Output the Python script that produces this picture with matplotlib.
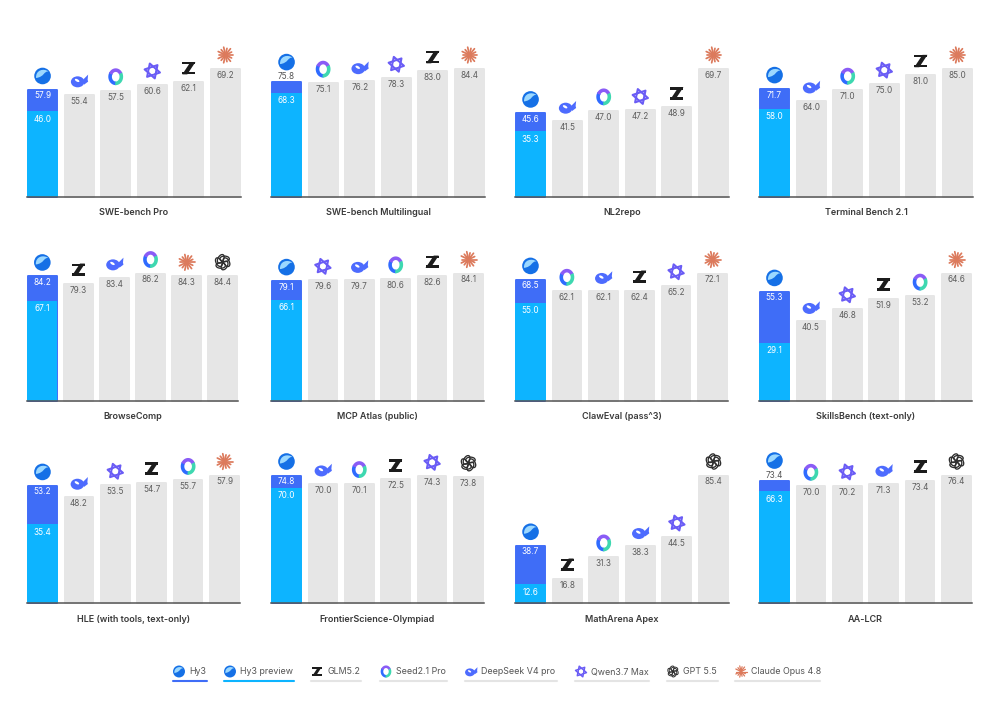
# -*- coding: utf-8 -*-
"""
Hy3 vs. rival models, 12 benchmarks. One small bar panel per benchmark,
logos drawn by hand above each bar.
"""

import numpy as np
import matplotlib
matplotlib.use('Agg')
import matplotlib.pyplot as plt
from matplotlib.patches import Circle, Ellipse, Polygon, PathPatch
from matplotlib.path import Path

# --- Data ---
TITLES = ['SWE-bench Pro', 'SWE-bench Multilingual', 'NL2repo', 'Terminal Bench 2.1',
          'BrowseComp', 'MCP Atlas (public)', 'ClawEval (pass^3)', 'SkillsBench (text-only)',
          'HLE (with tools, text-only)', 'FrontierScience-Olympiad', 'MathArena Apex', 'AA-LCR']

HY3 = [57.9, 75.8, 45.6, 71.7,
       84.2, 79.1, 68.5, 55.3,
       53.2, 74.8, 38.7, 73.4]
HY3_PREVIEW = [46.0, 68.3, 35.3, 58.0,
               67.1, 66.1, 55.0, 29.1,
               35.4, 70.0, 12.6, 66.3]

RIVAL_NAMES = [
    ['deepseek', 'seed', 'qwen', 'glm', 'claude'],
    ['seed', 'deepseek', 'qwen', 'glm', 'claude'],
    ['deepseek', 'seed', 'qwen', 'glm', 'claude'],
    ['deepseek', 'seed', 'qwen', 'glm', 'claude'],
    ['glm', 'deepseek', 'seed', 'claude', 'gpt'],
    ['qwen', 'deepseek', 'seed', 'glm', 'claude'],
    ['seed', 'deepseek', 'glm', 'qwen', 'claude'],
    ['deepseek', 'qwen', 'glm', 'seed', 'claude'],
    ['deepseek', 'qwen', 'glm', 'seed', 'claude'],
    ['deepseek', 'seed', 'glm', 'qwen', 'gpt'],
    ['glm', 'seed', 'deepseek', 'qwen', 'gpt'],
    ['seed', 'qwen', 'deepseek', 'glm', 'gpt'],
]
RIVAL_VALUES = [
    [55.4, 57.5, 60.6, 62.1, 69.2],
    [75.1, 76.2, 78.3, 83.0, 84.4],
    [41.5, 47.0, 47.2, 48.9, 69.7],
    [64.0, 71.0, 75.0, 81.0, 85.0],
    [79.3, 83.4, 86.2, 84.3, 84.4],
    [79.6, 79.7, 80.6, 82.6, 84.1],
    [62.1, 62.1, 62.4, 65.2, 72.1],
    [40.5, 46.8, 51.9, 53.2, 64.6],
    [48.2, 53.5, 54.7, 55.7, 57.9],
    [70.0, 70.1, 72.5, 74.3, 73.8],
    [16.8, 31.3, 38.3, 44.5, 85.4],
    [70.0, 70.2, 71.3, 73.4, 76.4],
]

LEGEND_NAMES = ['Hy3', 'Hy3 preview', 'GLM5.2', 'Seed2.1 Pro', 'DeepSeek V4 pro',
                'Qwen3.7 Max', 'GPT 5.5', 'Claude Opus 4.8']
LEGEND_LOGOS = ['hy3', 'hy3', 'glm', 'seed', 'deepseek', 'qwen', 'gpt', 'claude']

# --- Layout (pixels of the 1000x715 picture) ---
PANEL_LEFT = [27, 271, 515, 759]
PANEL_RIGHT = [
    [241, 485, 729, 973],
    [238, 484, 728, 972],
    [240, 484, 729, 972],
]
ROW_TOP = [68, 272.5, 474.5]
ROW_BASE = [196.5, 400.5, 603]
LEGEND_LEFT = [173, 224, 311, 380, 465, 575, 667, 735]
LEGEND_RIGHT = [207, 294, 361, 447, 557, 649, 718, 820]

BAR_W = 0.85
CYAN = '#0db4ff'
BLUE = '#3f6df7'
GRAY = '#e6e6e6'

plt.rcParams['font.family'] = ['Inter', 'Liberation Sans', 'DejaVu Sans']

fig = plt.figure(figsize=(10, 7.15), dpi=100, facecolor='white')

# overlay in picture pixels, for logos and the legend
over = fig.add_axes([0, 0, 1, 1], zorder=5)
over.set_xlim(0, 1000)
over.set_ylim(715, 0)
over.axis('off')


def to_pixels(ax, x, y):
    px, py = ax.transData.transform((x, y))
    return px, 715 - py


def ring(cx, cy, a, b, t1, t2, esp):
    """Piece of an elliptical ring as a closed polygon (angles in degrees, y down)."""
    t = np.radians(np.linspace(t1, t2, 30))
    fora = np.column_stack([cx + a * np.cos(t), cy + b * np.sin(t)])
    dentro = np.column_stack([cx + (a - esp) * np.cos(t[::-1]), cy + (b - esp) * np.sin(t[::-1])])
    return np.vstack([fora, dentro])


def draw_logo(name, cx, cy, s=1.0):
    """Draws one small brand mark centred on cx, cy."""
    if name == 'hy3':
        over.add_patch(Circle((cx, cy), 8.3 * s, fc='#1570e6', ec='none'))
        # light lobe sweeping from the left side up to the top right
        verts = [(cx - 6.5 * s, cy + 2 * s), (cx - 7 * s, cy - 6 * s), (cx + 1 * s, cy - 8 * s), (cx + 6 * s, cy - 4.5 * s),
                 (cx + 1 * s, cy - 5 * s), (cx + 2 * s, cy + 1 * s), (cx - 6.5 * s, cy + 2 * s)]
        codes = [Path.MOVETO, Path.CURVE4, Path.CURVE4, Path.CURVE4, Path.CURVE4, Path.CURVE4, Path.CURVE4]
        over.add_patch(PathPatch(Path(verts, codes), fc='#9bd8ff', ec='none'))
    elif name == 'deepseek':
        c = '#4d6bfe'
        over.add_patch(Ellipse((cx - 1.5 * s, cy + 1.2 * s), 13.5 * s, 11 * s, fc=c, ec='none'))
        over.add_patch(Polygon([(cx + 3 * s, cy), (cx + 6 * s, cy - 3 * s), (cx + 9 * s, cy - 6 * s),
                                (cx + 8.5 * s, cy - 1 * s), (cx + 9 * s, cy + 1 * s), (cx + 5 * s, cy + 4 * s)],
                               fc=c, ec='none'))
        over.add_patch(Ellipse((cx - 2 * s, cy - 0.2 * s), 5 * s, 2.4 * s, angle=30, fc='white', ec='none'))
    elif name == 'seed':
        a, b, esp = 7.4 * s, 8.4 * s, 3.6 * s
        over.add_patch(Polygon(ring(cx, cy, a, b, 85, 215, esp), fc='#2f6bff', ec='none'))
        over.add_patch(Polygon(ring(cx, cy, a, b, 205, 335, esp), fc='#8a5cf6', ec='none'))
        over.add_patch(Polygon(ring(cx, cy, a, b, -30, 95, esp), fc='#3ed8b0', ec='none'))
    elif name == 'qwen':
        c = '#6a5cf5'
        for off in [0.2, 0.2 + np.pi]:
            t = off + np.arange(3) * 2 * np.pi / 3
            pts = np.column_stack([cx + 7.8 * s * np.cos(t), cy + 7.8 * s * np.sin(t)])
            over.add_patch(Polygon(pts, fc='none', ec=c, lw=1.5 * s, joinstyle='round'))
        t = 0.2 + np.arange(6) * np.pi / 3
        over.add_patch(Polygon(np.column_stack([cx + 2.8 * s * np.cos(t), cy + 2.8 * s * np.sin(t)]),
                               fc='white', ec='none'))
    elif name == 'glm':
        c = '#1c1c1c'
        w, h, barra, diag = 6.6 * s, 6.2 * s, 2.5 * s, 5 * s
        over.add_patch(Polygon([(cx - w, cy - h), (cx + w, cy - h), (cx + w, cy - h + barra), (cx - w, cy - h + barra)],
                               fc=c, ec='none'))
        over.add_patch(Polygon([(cx - w, cy + h), (cx + w, cy + h), (cx + w, cy + h - barra), (cx - w, cy + h - barra)],
                               fc=c, ec='none'))
        over.add_patch(Polygon([(cx + w, cy - h), (cx + w - diag, cy - h), (cx - w, cy + h), (cx - w + diag, cy + h)],
                               fc=c, ec='none'))
    elif name == 'claude':
        for k in range(14):
            a = 2 * np.pi * k / 14
            r = (8 if k % 2 == 0 else 6.8) * s
            over.plot([cx, cx + r * np.cos(a)], [cy, cy + r * np.sin(a)],
                      color='#dc7a5c', lw=1.25 * s, solid_capstyle='round')
    elif name == 'gpt':
        for k in range(6):
            a = np.pi * k / 3
            over.add_patch(Ellipse((cx + 3.8 * s * np.cos(a), cy + 3.8 * s * np.sin(a)), 9.5 * s, 5.6 * s,
                                   angle=np.degrees(a) + 60, fc='none', ec='#2e2e2e', lw=0.95 * s))


def draw_panel(idx):
    row, col = idx // 4, idx % 4
    left, right = PANEL_LEFT[col], PANEL_RIGHT[row][col]
    top, base = ROW_TOP[row], ROW_BASE[row]
    ax = fig.add_axes([left / 1000, 1 - base / 715, (right - left) / 1000, (base - top) / 715])

    rivals = RIVAL_VALUES[idx]
    vmax = max(rivals + [HY3[idx]])
    ax.set_xlim(-BAR_W / 2, 5 + BAR_W / 2)
    ax.set_ylim(0, vmax)
    px_per_unit = (base - top) / vmax

    hy3, prev = HY3[idx], HY3_PREVIEW[idx]
    band_px = (hy3 - prev) * px_per_unit
    # the picture keeps a thin band readable by drawing it a bit thicker
    lower = min(prev, hy3 - 13 / px_per_unit) if TITLES[idx] == 'FrontierScience-Olympiad' else prev
    label_above = band_px < 12.5 and TITLES[idx] != 'FrontierScience-Olympiad'

    # the round joins of the edge give the soft corners of the bars
    borda = dict(lw=1.4, joinstyle='round', clip_on=False)
    largura = BAR_W - 0.06
    ax.bar(0, hy3 - 1 / px_per_unit, largura, color=BLUE, edgecolor=BLUE, **borda)
    ax.bar(0, lower, BAR_W - 0.01, color=CYAN, lw=0)
    x = np.arange(1, 6)
    ax.bar(x, np.array(rivals) - 1 / px_per_unit, largura, color=GRAY, edgecolor=GRAY, **borda)

    fs = 5.9
    ax.annotate(f'{prev:.1f}', (0, lower), xytext=(0, -8), textcoords='offset pixels',
                ha='center', va='center', fontsize=fs, color='white', zorder=6)
    if label_above:
        ax.annotate(f'{hy3:.1f}', (0, hy3), xytext=(0, 4.5), textcoords='offset pixels',
                    ha='center', va='center', fontsize=fs, color='#555555', zorder=6)
    else:
        ax.annotate(f'{hy3:.1f}', (0, hy3), xytext=(0, -7), textcoords='offset pixels',
                    ha='center', va='center', fontsize=fs, color='white', zorder=6)
    for xi, v in zip(x, rivals):
        ax.annotate(f'{v:.1f}', (xi, v), xytext=(0, -7.5), textcoords='offset pixels',
                    ha='center', va='center', fontsize=fs, color='#5e5e5e', zorder=6)

    ax.set_xticks([])
    ax.set_yticks([])
    for lado in ['top', 'left', 'right']:
        ax.spines[lado].set_visible(False)
    ax.spines['bottom'].set_color('#555555')
    ax.spines['bottom'].set_linewidth(1.1)
    ax.spines['bottom'].set_zorder(5)

    ax.annotate(TITLES[idx], (0.5, 0), xycoords='axes fraction', xytext=(0, -16), textcoords='offset pixels',
                ha='center', va='center', fontsize=6.5, fontweight='semibold', color='#3a3a3a')

    cx, cy = to_pixels(ax, 0, hy3)
    draw_logo('hy3', cx, cy - (19 if label_above else 13))
    for xi, v, name in zip(x, rivals, RIVAL_NAMES[idx]):
        cx, cy = to_pixels(ax, xi, v)
        draw_logo(name, cx, cy - 13)


for i in range(len(TITLES)):
    draw_panel(i)

# --- Legend ---
for k, nome in enumerate(LEGEND_NAMES):
    l, r = LEGEND_LEFT[k], LEGEND_RIGHT[k]
    draw_logo(LEGEND_LOGOS[k], l + 6, 671.5, s=0.72)
    over.text(l + 16, 672, nome, ha='left', va='center', fontsize=6.4, color='#555555')
    cor = BLUE if k == 0 else CYAN if k == 1 else '#e4e4e4'
    over.plot([l, r], [681, 681], color=cor, lw=1.5, solid_capstyle='round')

fig.savefig('out.png', dpi=100, facecolor='white')
